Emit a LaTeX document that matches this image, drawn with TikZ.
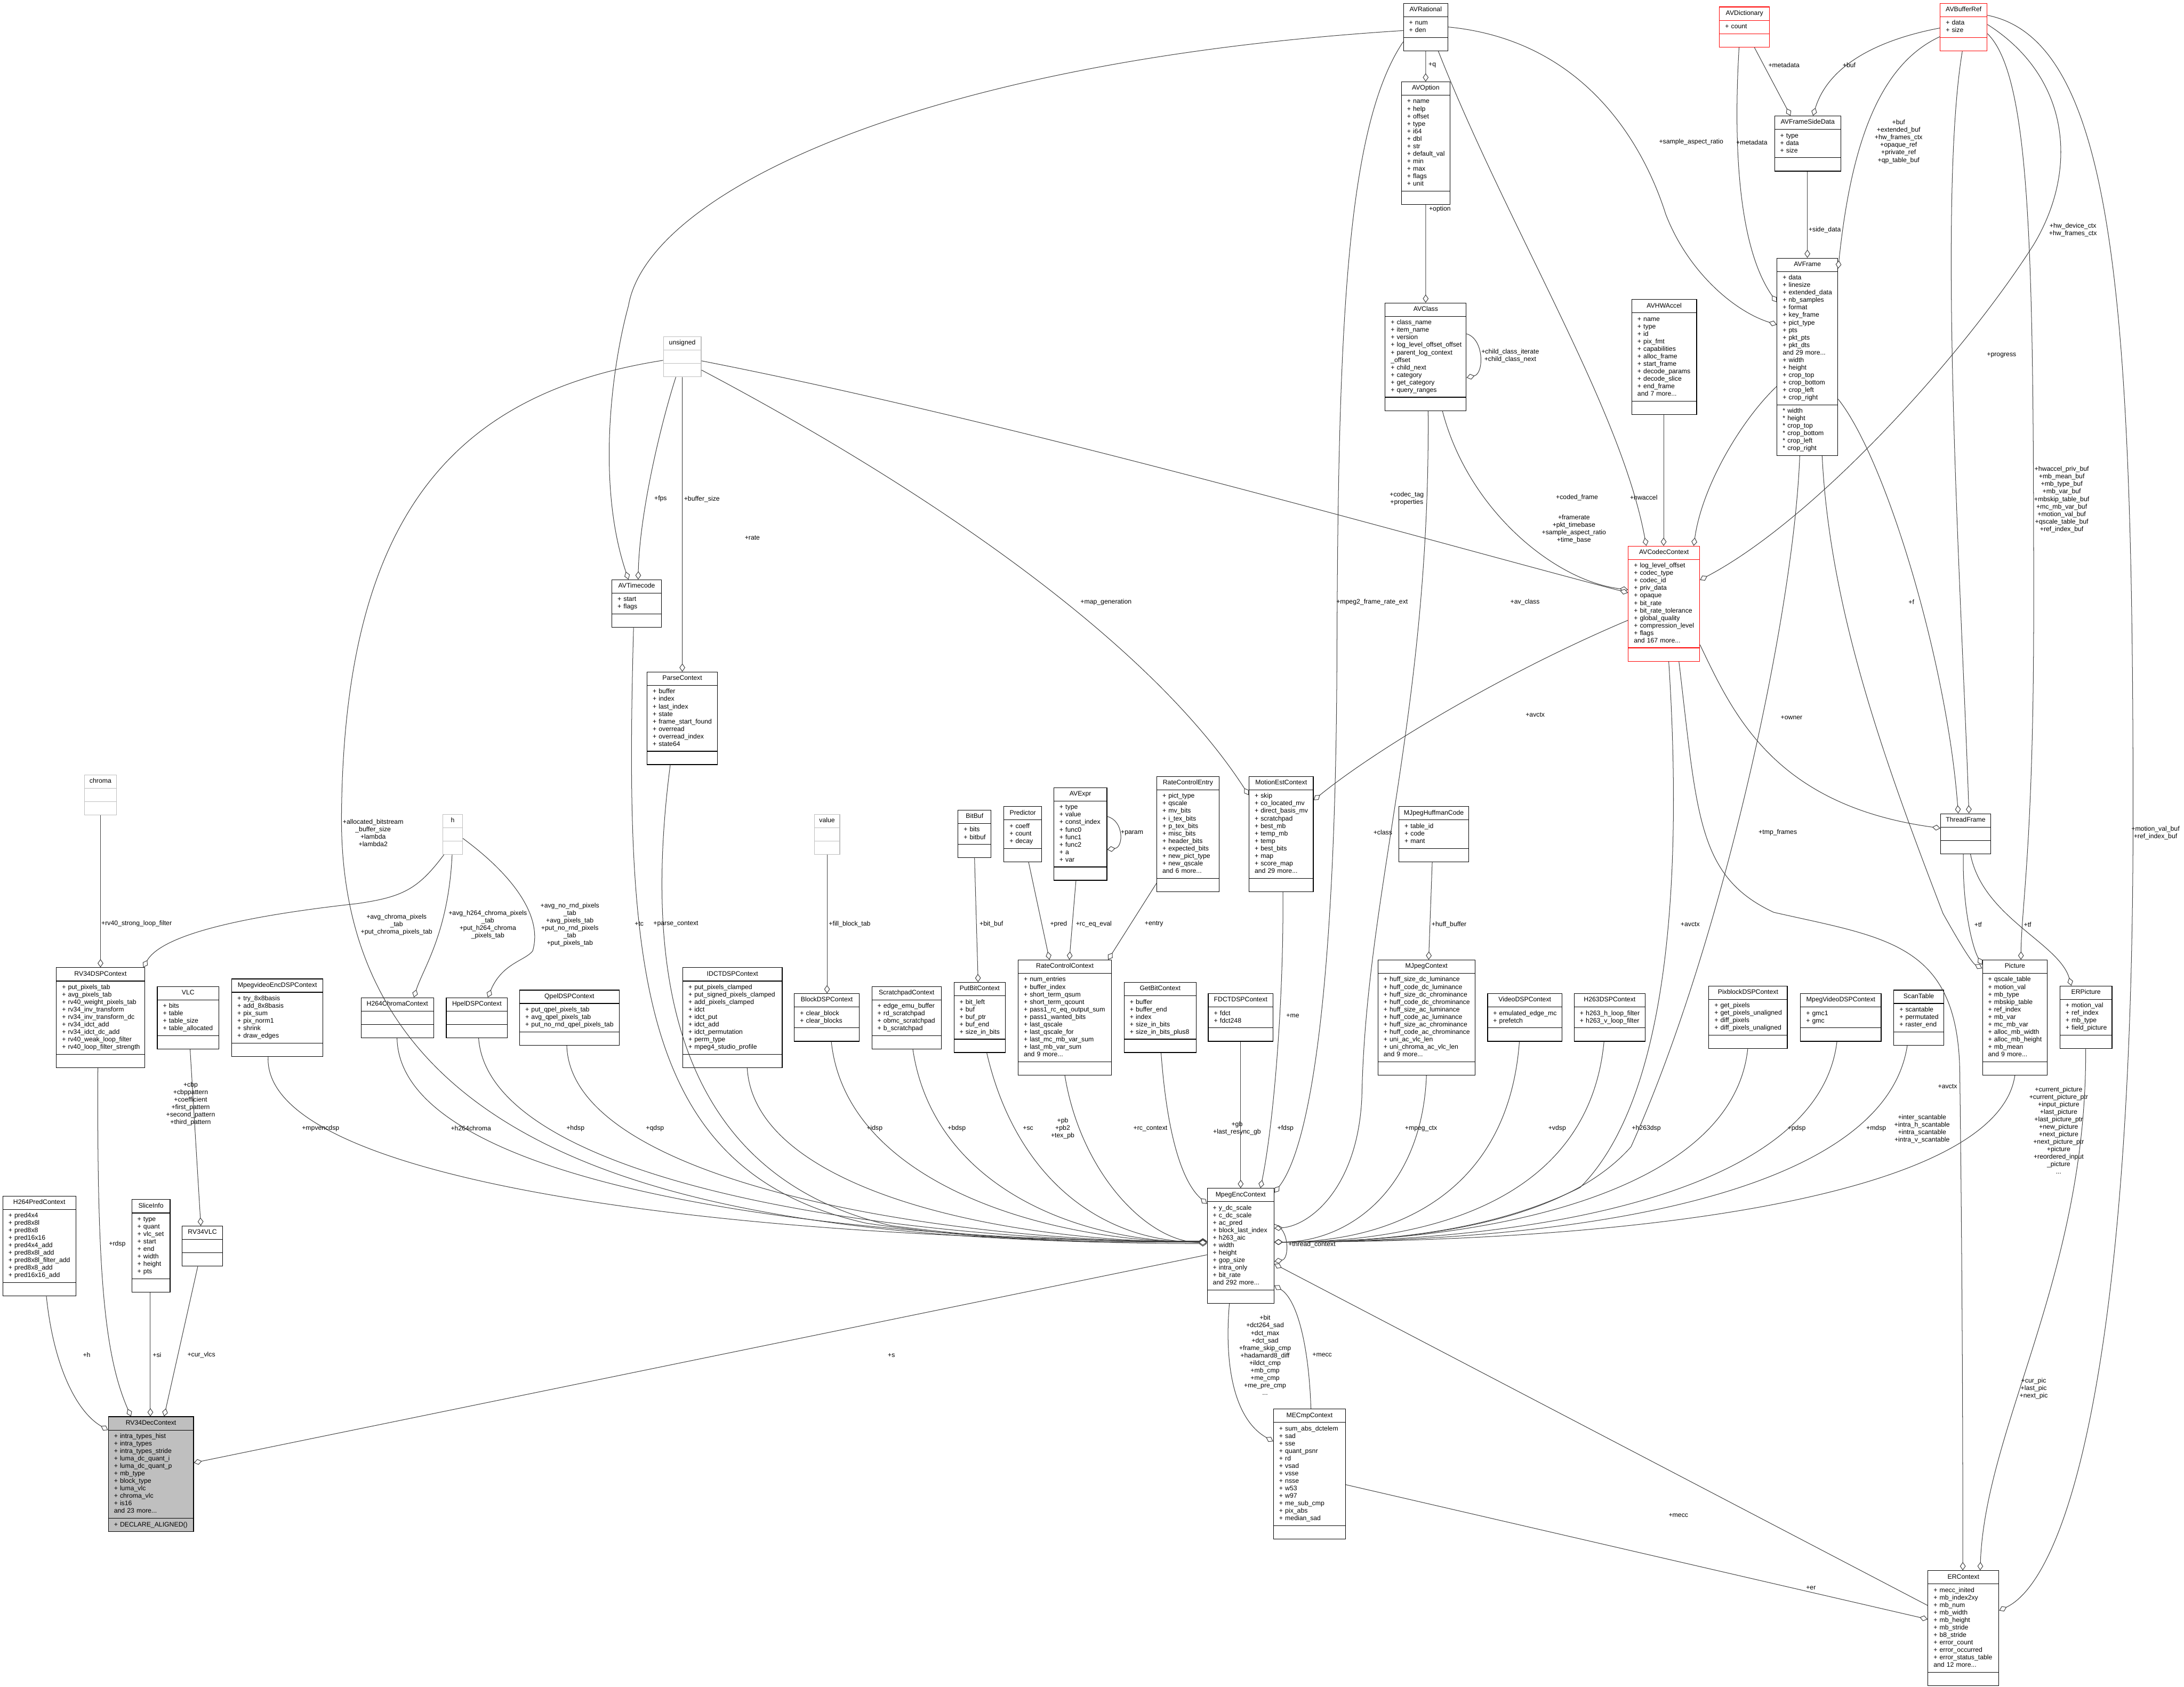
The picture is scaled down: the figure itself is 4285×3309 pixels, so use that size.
\documentclass[tikz,border=0pt]{standalone}
\usepackage{fontspec}
\setmainfont{Liberation Sans}
\usetikzlibrary{arrows.meta,shapes.multipart}
\definecolor{edgegray}{HTML}{404040}
\definecolor{extgray}{HTML}{BFBFBF}
\definecolor{focusgray}{HTML}{BFBFBF}
\hyphenpenalty=10000
\exhyphenpenalty=10000
\newcommand{\dxfont}{\fontsize{3.65}{4.18}\selectfont\hyphenpenalty=10000 }
\newcommand{\ctitle}[1]{\hbox to\hsize{\hss\strut#1\hss}}

\begin{document}
\begin{tikzpicture}[x=0.01cm, y=-0.01cm,
  cls/.style={rectangle split, rectangle split parts=3, draw=black, fill=white, line width=0.35pt,
    inner xsep=0.11cm, inner ysep=0.0515cm, anchor=north west, align=left, font=\dxfont},
  trunc/.style={cls, draw=red},
  ext/.style={cls, draw=extgray},
  focus/.style={cls, fill=focusgray},
  agg/.style={draw=edgegray, line width=0.3pt, -{Diamond[length=4.6pt, width=3.2pt, fill=white]}},
  lbl/.style={font=\dxfont, align=center, inner sep=0pt},
]
\fill[white] (0,0) rectangle (4285,3309);
\useasboundingbox (0,0) rectangle (4285,3309);

% top classes
\node[cls, text width=0.65cm] (AVRational) at (2753,6) {\ctitle{AVRational}\nodepart{two}\strut+~num\\+~den\strut\nodepart{three}\strut};
\node[cls, text width=0.73cm] (AVOption) at (2749,160) {\ctitle{AVOption}\nodepart{two}\strut+~name\\+~help\\+~offset\\+~type\\+~i64\\+~dbl\\+~str\\+~default\_val\\+~min\\+~max\\+~flags\\+~unit\strut\nodepart{three}\strut};
\node[trunc, text width=0.76cm] (AVDictionary) at (3373,13) {\ctitle{AVDictionary}\nodepart{two}\strut+~count\strut\nodepart{three}\strut};
\node[cls, text width=1.08cm] (AVFrameSideData) at (3481,227) {\ctitle{AVFrameSideData}\nodepart{two}\strut+~type\\+~data\\+~size\strut\nodepart{three}\strut};
\node[trunc, text width=0.70cm] (AVBufferRef) at (3806,6) {\ctitle{AVBufferRef}\nodepart{two}\strut+~data\\+~size\strut\nodepart{three}\strut};
\node[cls, text width=1.37cm] (AVClass) at (2717,594) {\ctitle{AVClass}\nodepart{two}\strut+~class\_name\\+~item\_name\\+~version\\+~log\_level\_offset\_offset\\+~parent\_log\_context\\\_offset\\+~child\_next\\+~category\\+~get\_category\\+~query\_ranges\strut\nodepart{three}\strut};
\node[cls, text width=1.05cm] (AVHWAccel) at (3201,587) {\ctitle{AVHWAccel}\nodepart{two}\strut+~name\\+~type\\+~id\\+~pix\_fmt\\+~capabilities\\+~alloc\_frame\\+~start\_frame\\+~decode\_params\\+~decode\_slice\\+~end\_frame\\and 7 more...\strut\nodepart{three}\strut};
\node[cls, text width=0.97cm] (AVFrame) at (3486,506) {\ctitle{AVFrame}\nodepart{two}\strut+~data\\+~linesize\\+~extended\_data\\+~nb\_samples\\+~format\\+~key\_frame\\+~pict\_type\\+~pts\\+~pkt\_pts\\+~pkt\_dts\\and 29 more...\\+~width\\+~height\\+~crop\_top\\+~crop\_bottom\\+~crop\_left\\+~crop\_right\strut\nodepart{three}\strut{*}~width\\{*}~height\\{*}~crop\_top\\{*}~crop\_bottom\\{*}~crop\_left\\{*}~crop\_right\strut};
\node[trunc, text width=1.18cm] (AVCodecContext) at (3194,1071) {\ctitle{AVCodecContext}\nodepart{two}\strut+~log\_level\_offset\\+~codec\_type\\+~codec\_id\\+~priv\_data\\+~opaque\\+~bit\_rate\\+~bit\_rate\_tolerance\\+~global\_quality\\+~compression\_level\\+~flags\\and 167 more...\strut\nodepart{three}\strut};
\node[ext, text width=0.52cm] (unsigned) at (1301,660) {\ctitle{unsigned}\nodepart{two}\strut\nodepart{three}\strut};
\node[cls, text width=0.75cm] (AVTimecode) at (1200,1137) {\ctitle{AVTimecode}\nodepart{two}\strut+~start\\+~flags\strut\nodepart{three}\strut};
\node[cls, text width=1.16cm] (ParseContext) at (1269,1318) {\ctitle{ParseContext}\nodepart{two}\strut+~buffer\\+~index\\+~last\_index\\+~state\\+~frame\_start\_found\\+~overread\\+~overread\_index\\+~state64\strut\nodepart{three}\strut};

% upper middle row
\node[ext, text width=0.41cm] (chroma) at (165,1520) {\ctitle{chroma}\nodepart{two}\strut\nodepart{three}\strut};
\node[ext, text width=0.17cm] (h) at (868,1597) {\ctitle{h}\nodepart{two}\strut\nodepart{three}\strut};
\node[ext, text width=0.28cm] (value) at (1597,1597) {\ctitle{value}\nodepart{two}\strut\nodepart{three}\strut};
\node[cls, text width=0.43cm] (BitBuf) at (1879,1589) {\ctitle{BitBuf}\nodepart{two}\strut+~bits\\+~bitbuf\strut\nodepart{three}\strut};
\node[cls, text width=0.52cm] (Predictor) at (1969,1582) {\ctitle{Predictor}\nodepart{two}\strut+~coeff\\+~count\\+~decay\strut\nodepart{three}\strut};
\node[cls, text width=0.82cm] (AVExpr) at (2067,1545) {\ctitle{AVExpr}\nodepart{two}\strut+~type\\+~value\\+~const\_index\\+~func0\\+~func1\\+~func2\\+~a\\+~var\strut\nodepart{three}\strut};
\node[cls, text width=1.00cm] (RateControlEntry) at (2269,1523) {\ctitle{RateControlEntry}\nodepart{two}\strut+~pict\_type\\+~qscale\\+~mv\_bits\\+~i\_tex\_bits\\+~p\_tex\_bits\\+~misc\_bits\\+~header\_bits\\+~expected\_bits\\+~new\_pict\_type\\+~new\_qscale\\and 6 more...\strut\nodepart{three}\strut};
\node[cls, text width=1.04cm] (MotionEstContext) at (2450,1523) {\ctitle{MotionEstContext}\nodepart{two}\strut+~skip\\+~co\_located\_mv\\+~direct\_basis\_mv\\+~scratchpad\\+~best\_mb\\+~temp\_mb\\+~temp\\+~best\_bits\\+~map\\+~score\_map\\and 29 more...\strut\nodepart{three}\strut};
\node[cls, text width=1.15cm] (MJpegHuffmanCode) at (2744,1582) {\ctitle{MJpegHuffmanCode}\nodepart{two}\strut+~table\_id\\+~code\\+~mant\strut\nodepart{three}\strut};
\node[cls, text width=0.76cm] (ThreadFrame) at (3807,1596) {\ctitle{ThreadFrame}\nodepart{two}\strut\nodepart{three}\strut};

% member row
\node[cls, text width=1.51cm] (RV34DSPContext) at (110,1898) {\ctitle{RV34DSPContext}\nodepart{two}\strut+~put\_pixels\_tab\\+~avg\_pixels\_tab\\+~rv40\_weight\_pixels\_tab\\+~rv34\_inv\_transform\\+~rv34\_inv\_transform\_dc\\+~rv34\_idct\_add\\+~rv34\_idct\_dc\_add\\+~rv40\_weak\_loop\_filter\\+~rv40\_loop\_filter\_strength\strut\nodepart{three}\strut};
\node[cls, text width=0.99cm] (VLC) at (308,1935) {\ctitle{VLC}\nodepart{two}\strut+~bits\\+~table\\+~table\_size\\+~table\_allocated\strut\nodepart{three}\strut};
\node[cls, text width=1.57cm] (MpegvideoEncDSPContext) at (454,1920) {\ctitle{MpegvideoEncDSPContext}\nodepart{two}\strut+~try\_8x8basis\\+~add\_8x8basis\\+~pix\_sum\\+~pix\_norm1\\+~shrink\\+~draw\_edges\strut\nodepart{three}\strut};
\node[cls, text width=1.20cm] (H264ChromaContext) at (708,1957) {\ctitle{H264ChromaContext}\nodepart{two}\strut\nodepart{three}\strut};
\node[cls, text width=0.98cm] (HpelDSPContext) at (875,1957) {\ctitle{HpelDSPContext}\nodepart{two}\strut\nodepart{three}\strut};
\node[cls, text width=1.73cm] (QpelDSPContext) at (1019,1942) {\ctitle{QpelDSPContext}\nodepart{two}\strut+~put\_qpel\_pixels\_tab\\+~avg\_qpel\_pixels\_tab\\+~put\_no\_rnd\_qpel\_pixels\_tab\strut\nodepart{three}\strut};
\node[cls, text width=1.73cm] (IDCTDSPContext) at (1339,1898) {\ctitle{IDCTDSPContext}\nodepart{two}\strut+~put\_pixels\_clamped\\+~put\_signed\_pixels\_clamped\\+~add\_pixels\_clamped\\+~idct\\+~idct\_put\\+~idct\_add\\+~idct\_permutation\\+~perm\_type\\+~mpeg4\_studio\_profile\strut\nodepart{three}\strut};
\node[cls, text width=1.05cm] (BlockDSPContext) at (1558,1949) {\ctitle{BlockDSPContext}\nodepart{two}\strut+~clear\_block\\+~clear\_blocks\strut\nodepart{three}\strut};
\node[cls, text width=1.14cm] (ScratchpadContext) at (1710,1935) {\ctitle{ScratchpadContext}\nodepart{two}\strut+~edge\_emu\_buffer\\+~rd\_scratchpad\\+~obmc\_scratchpad\\+~b\_scratchpad\strut\nodepart{three}\strut};
\node[cls, text width=0.79cm] (PutBitContext) at (1871,1927) {\ctitle{PutBitContext}\nodepart{two}\strut+~bit\_left\\+~buf\\+~buf\_ptr\\+~buf\_end\\+~size\_in\_bits\strut\nodepart{three}\strut};
\node[cls, text width=1.61cm] (RateControlContext) at (1997,1883) {\ctitle{RateControlContext}\nodepart{two}\strut+~num\_entries\\+~buffer\_index\\+~short\_term\_qsum\\+~short\_term\_qcount\\+~pass1\_rc\_eq\_output\_sum\\+~pass1\_wanted\_bits\\+~last\_qscale\\+~last\_qscale\_for\\+~last\_mc\_mb\_var\_sum\\+~last\_mb\_var\_sum\\and 9 more...\strut\nodepart{three}\strut};
\node[cls, text width=1.19cm] (GetBitContext) at (2205,1927) {\ctitle{GetBitContext}\nodepart{two}\strut+~buffer\\+~buffer\_end\\+~index\\+~size\_in\_bits\\+~size\_in\_bits\_plus8\strut\nodepart{three}\strut};
\node[cls, text width=1.05cm] (FDCTDSPContext) at (2370,1949) {\ctitle{FDCTDSPContext}\nodepart{two}\strut+~fdct\\+~fdct248\strut\nodepart{three}\strut};
\node[cls, text width=1.68cm] (MJpegContext) at (2703,1883) {\ctitle{MJpegContext}\nodepart{two}\strut+~huff\_size\_dc\_luminance\\+~huff\_code\_dc\_luminance\\+~huff\_size\_dc\_chrominance\\+~huff\_code\_dc\_chrominance\\+~huff\_size\_ac\_luminance\\+~huff\_code\_ac\_luminance\\+~huff\_size\_ac\_chrominance\\+~huff\_code\_ac\_chrominance\\+~uni\_ac\_vlc\_len\\+~uni\_chroma\_ac\_vlc\_len\\and 9 more...\strut\nodepart{three}\strut};
\node[cls, text width=1.24cm] (VideoDSPContext) at (2918,1949) {\ctitle{VideoDSPContext}\nodepart{two}\strut+~emulated\_edge\_mc\\+~prefetch\strut\nodepart{three}\strut};
\node[cls, text width=1.17cm] (H263DSPContext) at (3088,1949) {\ctitle{H263DSPContext}\nodepart{two}\strut+~h263\_h\_loop\_filter\\+~h263\_v\_loop\_filter\strut\nodepart{three}\strut};
\node[cls, text width=1.32cm] (PixblockDSPContext) at (3352,1934) {\ctitle{PixblockDSPContext}\nodepart{two}\strut+~get\_pixels\\+~get\_pixels\_unaligned\\+~diff\_pixels\\+~diff\_pixels\_unaligned\strut\nodepart{three}\strut};
\node[cls, text width=1.36cm] (MpegVideoDSPContext) at (3532,1949) {\ctitle{MpegVideoDSPContext}\nodepart{two}\strut+~gmc1\\+~gmc\strut\nodepart{three}\strut};
\node[cls, text width=0.76cm] (ScanTable) at (3715,1942) {\ctitle{ScanTable}\nodepart{two}\strut+~scantable\\+~permutated\\+~raster\_end\strut\nodepart{three}\strut};
\node[cls, text width=1.05cm] (Picture) at (3889,1883) {\ctitle{Picture}\nodepart{two}\strut+~qscale\_table\\+~motion\_val\\+~mb\_type\\+~mbskip\_table\\+~ref\_index\\+~mb\_var\\+~mc\_mb\_var\\+~alloc\_mb\_width\\+~alloc\_mb\_height\\+~mb\_mean\\and 9 more...\strut\nodepart{three}\strut};
\node[cls, text width=0.80cm] (ERPicture) at (4041,1934) {\ctitle{ERPicture}\nodepart{two}\strut+~motion\_val\\+~ref\_index\\+~mb\_type\\+~field\_picture\strut\nodepart{three}\strut};

% lower rows
\node[cls, text width=1.21cm] (H264PredContext) at (5,2346) {\ctitle{H264PredContext}\nodepart{two}\strut+~pred4x4\\+~pred8x8l\\+~pred8x8\\+~pred16x16\\+~pred4x4\_add\\+~pred8x8l\_add\\+~pred8x8l\_filter\_add\\+~pred8x8\_add\\+~pred16x16\_add\strut\nodepart{three}\strut};
\node[cls, text width=0.53cm] (SliceInfo) at (258,2353) {\ctitle{SliceInfo}\nodepart{two}\strut+~type\\+~quant\\+~vlc\_set\\+~start\\+~end\\+~width\\+~height\\+~pts\strut\nodepart{three}\strut};
\node[cls, text width=0.57cm] (RV34VLC) at (357,2405) {\ctitle{RV34VLC}\nodepart{two}\strut\nodepart{three}\strut};
\node[cls, text width=1.09cm] (MpegEncContext) at (2368,2331) {\ctitle{MpegEncContext}\nodepart{two}\strut+~y\_dc\_scale\\+~c\_dc\_scale\\+~ac\_pred\\+~block\_last\_index\\+~h263\_aic\\+~width\\+~height\\+~gop\_size\\+~intra\_only\\+~bit\_rate\\and 292 more...\strut\nodepart{three}\strut};
\node[focus, text width=1.45cm] (RV34DecContext) at (212,2779) {\ctitle{RV34DecContext}\nodepart{two}\strut+~intra\_types\_hist\\+~intra\_types\\+~intra\_types\_stride\\+~luma\_dc\_quant\_i\\+~luma\_dc\_quant\_p\\+~mb\_type\\+~block\_type\\+~luma\_vlc\\+~chroma\_vlc\\+~is16\\and 23 more...\strut\nodepart{three}\strut+~DECLARE\_ALIGNED()\strut};
\node[cls, text width=1.19cm] (MECmpContext) at (2498,2764) {\ctitle{MECmpContext}\nodepart{two}\strut+~sum\_abs\_dctelem\\+~sad\\+~sse\\+~quant\_psnr\\+~rd\\+~vsad\\+~vsse\\+~nsse\\+~w53\\+~w97\\+~me\_sub\_cmp\\+~pix\_abs\\+~median\_sad\strut\nodepart{three}\strut};
\node[cls, text width=1.17cm] (ERContext) at (3782,3081) {\ctitle{ERContext}\nodepart{two}\strut+~mecc\_inited\\+~mb\_index2xy\\+~mb\_num\\+~mb\_width\\+~mb\_height\\+~mb\_stride\\+~b8\_stride\\+~error\_count\\+~error\_occurred\\+~error\_status\_table\\and 12 more...\strut\nodepart{three}\strut};

% upper links
\draw[agg] (AVRational.south) -- (AVOption.north);
\node[lbl, anchor=west] (lq) at (2802,128) {+q};
\draw[agg] (AVOption.south) -- (AVClass.north);
\node[lbl, anchor=west] (loption) at (2803,410) {+option};
\draw[agg] (AVClass.east|-0,655) .. controls (2912,665) and (2912,733) .. (AVClass.east|-0,741);
\node[lbl] (lchild) at (2963,698) {+child\_class\_iterate\\+child\_class\_next};
\draw[agg] (AVDictionary.south-|3442,0) -- (AVFrameSideData.north-|3513,0);
\node[lbl] (lmeta1) at (3500,128) {+metadata};
\draw[agg] (AVBufferRef.west|-0,55) .. controls (3700,75) and (3590,120) .. (AVFrameSideData.north-|3557,0);
\node[lbl] (lbuf1) at (3628,128) {+buf};
\draw[agg] (AVFrameSideData.south-|3546,0) -- (AVFrame.north-|3546,0);
\node[lbl] (lside) at (3580,451) {+side\_data};
\draw[agg] (AVDictionary.south-|3412,0) .. controls (3398,330) and (3420,500) .. (AVFrame.west|-0,593);
\node[lbl] (lmeta2) at (3437,279) {+metadata};
\draw[agg] (AVRational.east|-0,53) .. controls (3120,80) and (3230,300) .. (3268,420) .. controls (3310,530) and (3400,610) .. (AVFrame.west|-0,637);
\node[lbl] (lsar) at (3318,279) {+sample\_aspect\_ratio};
\draw[agg] (AVBufferRef.west|-0,72) .. controls (3680,130) and (3630,300) .. (AVFrame.east|-0,527);
\node[lbl] (lbuf2) at (3725,278) {+buf\\+extended\_buf\\+hw\_frames\_ctx\\+opaque\_ref\\+private\_ref\\+qp\_table\_buf};
\draw[agg] (AVBufferRef.east|-0,48) .. controls (4060,150) and (4080,330) .. (3990,480) .. controls (3850,700) and (3560,1020) .. (AVCodecContext.east|-0,1138);
\node[lbl] (lhwdev) at (4067,451) {+hw\_device\_ctx\\+hw\_frames\_ctx};
\draw[agg] (AVBufferRef.south-|3850,0) .. controls (3800,400) and (3850,1200) .. (ThreadFrame.north-|3863,0);
\node[lbl] (lprog) at (3927,697) {+progress};
\draw[agg] (AVBufferRef.east|-0,66) .. controls (3985,150) and (3990,500) .. (3990,1200) .. controls (3990,1650) and (3966,1780) .. (Picture.north-|3965,0);
\node[lbl] (lhwbuf) at (4045,980) {+hwaccel\_priv\_buf\\+mb\_mean\_buf\\+mb\_type\_buf\\+mb\_var\_buf\\+mbskip\_table\_buf\\+mc\_mb\_var\_buf\\+motion\_val\_buf\\+qscale\_table\_buf\\+ref\_index\_buf};
\draw[agg] (AVBufferRef.east|-0,30) .. controls (4150,80) and (4185,600) .. (4185,1600) .. controls (4185,2700) and (4050,3100) .. (ERContext.east|-0,3160);
\node[lbl] (lmvbuf) at (4229,1634) {+motion\_val\_buf\\+ref\_index\_buf};

% codec context links
\draw[agg] (AVFrame.west|-0,758) .. controls (3420,820) and (3340,950) .. (AVCodecContext.north-|3323,0);
\node[lbl] (lcoded) at (3094,976) {+coded\_frame};
\draw[agg] (AVHWAccel.south-|3264,0) -- (AVCodecContext.north-|3264,0);
\node[lbl] (lhwaccel) at (3225,976) {+hwaccel};
\draw[agg] (AVRational.south-|2822,0) .. controls (2960,450) and (3180,800) .. (AVCodecContext.north-|3230,0);
\node[lbl] (lframerate) at (3088,1038) {+framerate\\+pkt\_timebase\\+sample\_aspect\_ratio\\+time\_base};
\draw[agg] (AVClass.south-|2830,0) .. controls (2880,1000) and (3050,1140) .. (AVCodecContext.west|-0,1157);
\node[lbl] (lavclass) at (2992,1181) {+av\_class};
\draw[agg] (unsigned.east|-0,708) .. controls (2000,830) and (2800,1060) .. (AVCodecContext.west|-0,1163);
\node[lbl] (lcodectag) at (2760,978) {+codec\_tag\\+properties};
\draw[agg] (unsigned.east|-0,726) .. controls (1800,950) and (2250,1250) .. (MotionEstContext.west|-0,1560);
\node[lbl] (lmapgen) at (2170,1181) {+map\_generation};
\draw[agg] (AVCodecContext.west|-0,1217) .. controls (2950,1320) and (2700,1470) .. (MotionEstContext.east|-0,1570);
\node[lbl] (lavctx1) at (3012,1402) {+avctx};
\draw[agg] (AVCodecContext.east|-0,1265) .. controls (3400,1400) and (3480,1580) .. (ThreadFrame.west|-0,1625);
\node[lbl] (lowner) at (3515,1408) {+owner};
\draw[agg] (AVFrame.east|-0,783) .. controls (3700,900) and (3820,1300) .. (ThreadFrame.north-|3842,0);
\node[lbl] (lf1) at (3750,1181) {+f};
\draw[agg] (AVFrame.south-|3575,0) .. controls (3590,1200) and (3700,1500) .. (3812,1792) .. controls (3850,1860) and (3870,1890) .. (Picture.west|-0,1900);
\draw[agg] (ThreadFrame.south-|3852,0) .. controls (3850,1780) and (3870,1860) .. (Picture.west|-0,1893);
\node[lbl] (ltf1) at (3881,1814) {+tf};
\draw[agg] (ThreadFrame.south-|3866,0) .. controls (3890,1800) and (4040,1850) .. (ERPicture.north-|4064,0);
\node[lbl] (ltf2) at (3978,1814) {+tf};

% timecode, parse context, unsigned
\draw[agg] (AVRational.west|-0,60) .. controls (1800,120) and (1270,380) .. (1233,600) .. controls (1200,720) and (1170,950) .. (AVTimecode.north-|1233,0);
\node[lbl] (lrate) at (1476,1055) {+rate};
\draw[agg] (unsigned.south-|1326,0) .. controls (1300,820) and (1255,1000) .. (AVTimecode.north-|1252,0);
\node[lbl] (lfps) at (1296,979) {+fps};
\draw[agg] (unsigned.south) -- (ParseContext.north);
\node[lbl] (lbufsize) at (1377,979) {+buffer\_size};

% member row links
\draw[agg] (chroma.south) -- (chroma.south|-RV34DSPContext.north);
\node[lbl] (lrv40) at (268,1812) {+rv40\_strong\_loop\_filter};
\draw[agg] (h.south-|871,0) .. controls (820,1745) and (790,1760) .. (700,1773) .. controls (500,1795) and (320,1830) .. (RV34DSPContext.north-|281,0);
\node[lbl] (lavgchroma) at (778,1814) {+avg\_chroma\_pixels\\\_tab\\+put\_chroma\_pixels\_tab};
\draw[agg] (h.south-|887,0) .. controls (880,1830) and (830,1900) .. (H264ChromaContext.north-|812,0);
\node[lbl] (lavgh264) at (957,1814) {+avg\_h264\_chroma\_pixels\\\_tab\\+put\_h264\_chroma\\\_pixels\_tab};
\draw[agg] (h.east|-0,1645) .. controls (1010,1720) and (1065,1800) .. (1045,1866) .. controls (1030,1885) and (985,1890) .. (HpelDSPContext.north-|957,0);
\node[lbl] (lavgnornd) at (1118,1814) {+avg\_no\_rnd\_pixels\\\_tab\\+avg\_pixels\_tab\\+put\_no\_rnd\_pixels\\\_tab\\+put\_pixels\_tab};
\draw[agg] (value.south) -- (value.south|-BlockDSPContext.north);
\node[lbl] (lfill) at (1667,1813) {+fill\_block\_tab};
\draw[agg] (BitBuf.south-|1912,0) -- (PutBitContext.north-|1919,0);
\node[lbl] (lbitbuf) at (1945,1813) {+bit\_buf};
\draw[agg] (Predictor.south-|2018,0) -- (RateControlContext.north-|2059,0);
\node[lbl] (lpred) at (2077,1813) {+pred};
\draw[agg] (AVExpr.south-|2111,0) -- (RateControlContext.north-|2098,0);
\node[lbl] (lrceq) at (2146,1813) {+rc\_eq\_eval};
\draw[agg] (RateControlEntry.west|-0,1733) -- (RateControlContext.north-|2174,0);
\node[lbl] (lentry) at (2264,1813) {+entry};
\draw[agg] (AVExpr.east|-0,1602) .. controls (2205,1610) and (2205,1662) .. (AVExpr.east|-0,1667);
\node[lbl] (lparam) at (2221,1634) {+param};
\draw[agg] (MJpegHuffmanCode.south-|2810,0) -- (MJpegContext.north-|2803,0);
\node[lbl] (lhuff) at (2843,1814) {+huff\_buffer};

% into MpegEncContext, left side
\draw[agg] (unsigned.west|-0,707) .. controls (900,770) and (675,1000) .. (670,1600) .. controls (665,2300) and (1400,2437) .. (MpegEncContext.west|-0,2440);
\node[lbl] (lalloc) at (732,1634) {+allocated\_bitstream\\\_buffer\_size\\+lambda\\+lambda2};
\draw[agg] (MpegvideoEncDSPContext.south-|526,0) .. controls (515,2330) and (1500,2435) .. (MpegEncContext.west|-0,2435);
\node[lbl] (lmpvencdsp) at (629,2214) {+mpvencdsp};
\draw[agg] (H264ChromaContext.south-|779,0) .. controls (785,2330) and (1650,2437) .. (MpegEncContext.west|-0,2436);
\node[lbl] (lh264chroma) at (924,2214) {+h264chroma};
\draw[agg] (HpelDSPContext.south-|939,0) .. controls (960,2320) and (1750,2437) .. (MpegEncContext.west|-0,2437);
\node[lbl] (lhdsp) at (1129,2214) {+hdsp};
\draw[agg] (QpelDSPContext.south-|1112,0) .. controls (1120,2320) and (1850,2437) .. (MpegEncContext.west|-0,2437);
\node[lbl] (lqdsp) at (1285,2214) {+qdsp};
\draw[agg] (AVTimecode.south-|1243,0) .. controls (1225,1900) and (1250,2300) .. (1700,2400) .. controls (1950,2437) and (2150,2437) .. (MpegEncContext.west|-0,2437);
\node[lbl] (ltc) at (1254,1813) {+tc};
\draw[agg] (ParseContext.south-|1315,0) .. controls (1270,1850) and (1290,2300) .. (1750,2405) .. controls (2000,2437) and (2150,2437) .. (MpegEncContext.west|-0,2437);
\node[lbl] (lparse) at (1326,1813) {+parse\_context};
\draw[agg] (IDCTDSPContext.south-|1466,0) .. controls (1480,2330) and (1950,2437) .. (MpegEncContext.west|-0,2437);
\node[lbl] (lidsp) at (1716,2214) {+idsp};
\draw[agg] (BlockDSPContext.south-|1631,0) .. controls (1660,2320) and (2050,2437) .. (MpegEncContext.west|-0,2437);
\node[lbl] (lbdsp) at (1877,2214) {+bdsp};
\draw[agg] (ScratchpadContext.south-|1791,0) .. controls (1830,2320) and (2100,2437) .. (MpegEncContext.west|-0,2437);
\node[lbl] (lsc) at (2017,2214) {+sc};
\draw[agg] (PutBitContext.south-|1936,0) .. controls (1990,2300) and (2150,2437) .. (MpegEncContext.west|-0,2437);
\node[lbl] (lpb) at (2085,2214) {+pb\\+pb2\\+tex\_pb};
\draw[agg] (RateControlContext.south) .. controls (2120,2300) and (2250,2437) .. (MpegEncContext.west|-0,2438);
\node[lbl] (lrc) at (2257,2214) {+rc\_context};
\draw[agg] (GetBitContext.south-|2278,0) .. controls (2290,2230) and (2320,2320) .. (MpegEncContext.west|-0,2362);
\node[lbl] (lgb) at (2427,2214) {+gb\\+last\_resync\_gb};
\draw[agg] (FDCTDSPContext.south) -- (FDCTDSPContext.south|-MpegEncContext.north);
\node[lbl] (lfdsp) at (2522,2214) {+fdsp};
\draw[agg] (MotionEstContext.south-|2517,0) .. controls (2519,1950) and (2500,2200) .. (MpegEncContext.north-|2473,0);
\node[lbl, anchor=west] (lme) at (2523,1993) {+me};

% into MpegEncContext, right side
\draw[agg] (AVRational.west|-0,82) .. controls (2640,250) and (2625,650) .. (2623,1300) .. controls (2620,1950) and (2570,2250) .. (MpegEncContext.east|-0,2340);
\node[lbl] (lmpeg2) at (2692,1181) {+mpeg2\_frame\_rate\_ext};
\draw[agg] (AVClass.south-|2802,0) .. controls (2806,1400) and (2680,1750) .. (2672,2150) .. controls (2665,2330) and (2570,2405) .. (MpegEncContext.east|-0,2410);
\node[lbl] (lclass) at (2713,1633) {+class};
\draw[agg] (AVCodecContext.south-|3274,0) .. controls (3300,1700) and (3280,2150) .. (3100,2330) .. controls (2900,2430) and (2650,2437) .. (MpegEncContext.east|-0,2437);
\node[lbl] (lavctx2) at (3316,1814) {+avctx};
\draw[agg] (AVFrame.south-|3531,0) .. controls (3520,1200) and (3380,1850) .. (3200,2250) .. controls (3050,2420) and (2700,2437) .. (MpegEncContext.east|-0,2437);
\node[lbl] (ltmp) at (3488,1633) {+tmp\_frames};
\draw[agg] (MJpegContext.south) .. controls (2790,2330) and (2650,2437) .. (MpegEncContext.east|-0,2437);
\node[lbl] (lmpegctx) at (2788,2214) {+mpeg\_ctx};
\draw[agg] (VideoDSPContext.south-|2981,0) .. controls (2960,2330) and (2750,2437) .. (MpegEncContext.east|-0,2437);
\node[lbl] (lvdsp) at (3055,2214) {+vdsp};
\draw[agg] (H263DSPContext.south-|3147,0) .. controls (3120,2330) and (2850,2437) .. (MpegEncContext.east|-0,2437);
\node[lbl] (lh263) at (3230,2214) {+h263dsp};
\draw[agg] (PixblockDSPContext.south-|3429,0) .. controls (3400,2330) and (2950,2437) .. (MpegEncContext.east|-0,2437);
\node[lbl] (lpdsp) at (3525,2214) {+pdsp};
\draw[agg] (MpegVideoDSPContext.south-|3604,0) .. controls (3570,2330) and (3050,2437) .. (MpegEncContext.east|-0,2437);
\node[lbl] (lmdsp) at (3681,2214) {+mdsp};
\draw[agg] (ScanTable.south-|3742,0) .. controls (3700,2330) and (3150,2437) .. (MpegEncContext.east|-0,2437);
\node[lbl] (lscan) at (3771,2215) {+inter\_scantable\\+intra\_h\_scantable\\+intra\_scantable\\+intra\_v\_scantable};
\draw[agg] (Picture.south) .. controls (3920,2340) and (3250,2437) .. (MpegEncContext.east|-0,2437);
\node[lbl] (lpicture) at (4039,2218) {+current\_picture\\+current\_picture\_ptr\\+input\_picture\\+last\_picture\\+last\_picture\_ptr\\+new\_picture\\+next\_picture\\+next\_picture\_ptr\\+picture\\+reordered\_input\\\_picture\\...};
\draw[agg] (MpegEncContext.east|-0,2402) .. controls (2530,2410) and (2530,2470) .. (MpegEncContext.east|-0,2475);
\node[lbl] (lthread) at (2574,2442) {+thread\_context};

% error resilience and compare
\draw[agg] (ERContext.west|-0,3150) -- (MpegEncContext.east|-0,2480);
\node[lbl] (ler) at (3553,3115) {+er};
\draw[agg] (MECmpContext.east|-0,2913) -- (ERContext.west|-0,3177);
\node[lbl] (lmecc1) at (3293,2973) {+mecc};
\draw[agg] (MECmpContext.north-|2572,0) .. controls (2568,2640) and (2545,2550) .. (MpegEncContext.east|-0,2522);
\node[lbl] (lmecc2) at (2594,2658) {+mecc};
\draw[agg] (MpegEncContext.south-|2412,0) .. controls (2400,2700) and (2430,2790) .. (MECmpContext.west|-0,2828);
\node[lbl] (lbit) at (2482,2659) {+bit\\+dct264\_sad\\+dct\_max\\+dct\_sad\\+frame\_skip\_cmp\\+hadamard8\_diff\\+ildct\_cmp\\+mb\_cmp\\+me\_cmp\\+me\_pre\_cmp\\...};
\draw[agg] (AVCodecContext.south-|3294,0) .. controls (3330,1600) and (3330,1720) .. (3480,1790) .. controls (3700,1840) and (3840,1850) .. (3845,2100) .. controls (3850,2500) and (3851,2800) .. (ERContext.north-|3851,0);
\node[lbl] (lavctx3) at (3821,2132) {+avctx};
\draw[agg] (ERPicture.south-|4092,0) .. controls (4095,2500) and (3895,2800) .. (ERContext.north-|3885,0);
\node[lbl] (lcurpic) at (3990,2724) {+cur\_pic\\+last\_pic\\+next\_pic};

% into RV34DecContext
\draw[agg] (MpegEncContext.west|-0,2462) -- (RV34DecContext.east|-0,2870);
\node[lbl] (ls) at (1749,2659) {+s};
\draw[agg] (H264PredContext.south-|91,0) .. controls (105,2680) and (150,2770) .. (RV34DecContext.west|-0,2806);
\node[lbl] (lh) at (170,2658) {+h};
\draw[agg] (RV34DSPContext.south-|192,0) .. controls (190,2500) and (205,2660) .. (RV34DecContext.north-|257,0);
\node[lbl] (lrdsp) at (230,2441) {+rdsp};
\draw[agg] (SliceInfo.south-|295,0) -- (RV34DecContext.north-|295,0);
\node[lbl] (lsi) at (308,2658) {+si};
\draw[agg] (RV34VLC.south-|388,0) -- (RV34DecContext.north-|322,0);
\node[lbl] (lcurvlcs) at (395,2658) {+cur\_vlcs};
\draw[agg] (VLC.south-|373,0) -- (RV34VLC.north-|394,0);
\node[lbl] (lcbp) at (374,2166) {+cbp\\+cbppattern\\+coefficient\\+first\_pattern\\+second\_pattern\\+third\_pattern};
\end{tikzpicture}
\end{document}
